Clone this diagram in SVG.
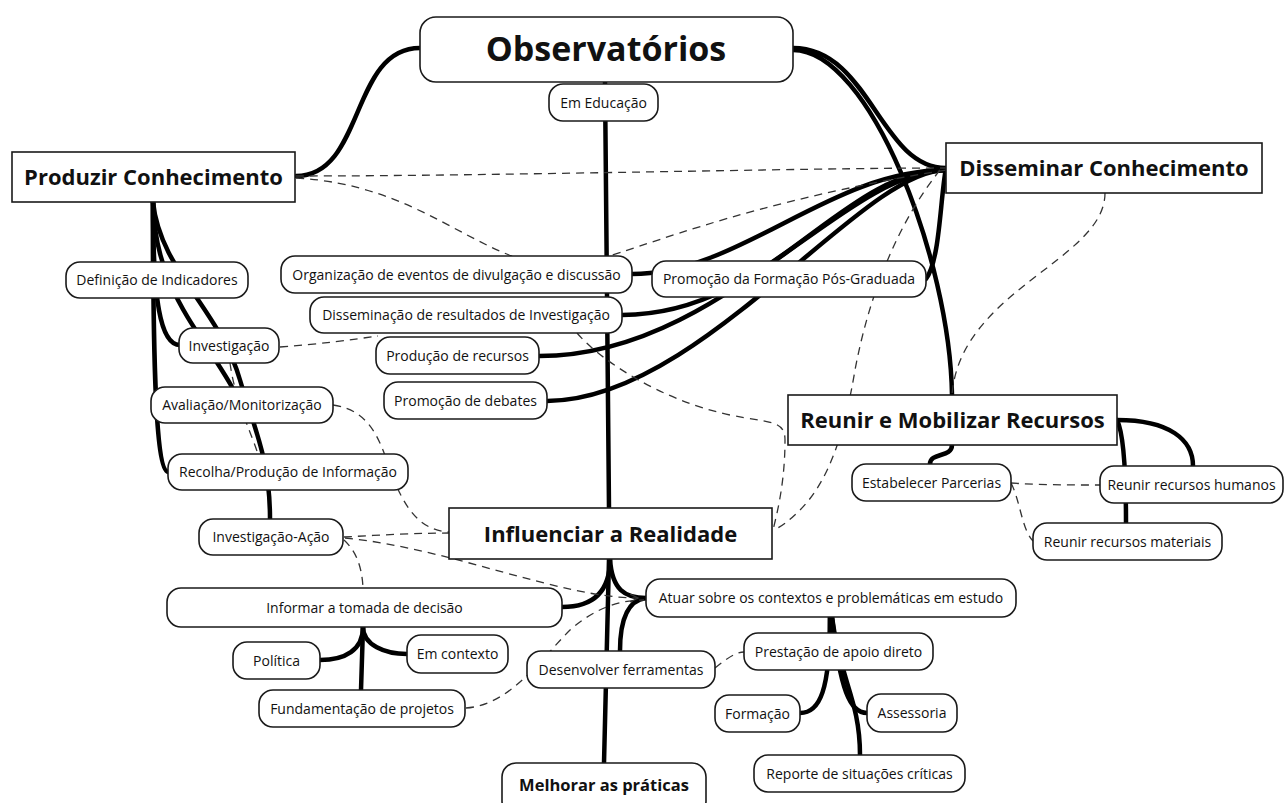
<svg xmlns="http://www.w3.org/2000/svg" width="1284" height="803" viewBox="0 0 1284 803">
<defs>
<style>
.n rect{fill:#fff;stroke:#1a1a1a;stroke-width:1.6}
.t{font-family:"Open Sans","Noto Sans","DejaVu Sans",sans-serif;font-size:14px;font-weight:500;fill:#111;text-anchor:middle}
.b{font-weight:bold;font-size:22px;fill:#111}
.k{fill:none;stroke:#000;stroke-width:4.5;stroke-linecap:round}
.d{fill:none;stroke:#333;stroke-width:1.3;stroke-dasharray:8 6}
</style>
<marker id="ar" markerWidth="10" markerHeight="10" refX="8" refY="4" orient="auto" markerUnits="userSpaceOnUse">
<path d="M0,0 L8,4 L0,8" fill="none" stroke="#333" stroke-width="1.3"/>
</marker>
</defs>
<rect width="1284" height="803" fill="#fff"/>
<g id="connectors">
<path class="k" d="M420,48 C350,48 365,176 296,176"/>
<path class="k" d="M793,48 C870,48 880,168 946,168"/>
<path class="k" d="M793,50 C870,50 950,260 952,395"/>
<path class="k" d="M605,82 L609,508"/>
<path class="k" d="M946,170 C830,170 740,274 632,274"/>
<path class="k" d="M946,170 C840,170 770,315 622,315"/>
<path class="k" d="M946,170 C840,172 720,356 539,356"/>
<path class="k" d="M946,170 C860,170 700,401 547,401"/>
<path class="k" d="M926,279 C940,260 940,200 946,168"/>
<path class="k" d="M153,202 L153,262"/>
<path class="k" d="M153,202 C153,300 160,345 180,345"/>
<path class="k" d="M153,202 C155,290 200,330 232,387"/>
<path class="k" d="M153,202 C153,350 155,470 168,472"/>
<path class="k" d="M153,202 C160,270 220,310 240,380 C255,430 270,460 270,519"/>
<path class="k" d="M952,445 C952,458 930,452 930,464"/>
<path class="k" d="M1117,420 C1170,420 1193,440 1193,466"/>
<path class="k" d="M1117,420 C1122,430 1126,460 1126,523"/>
<path class="k" d="M610,559 C610,595 590,607 562,607"/>
<path class="k" d="M610,559 C612,590 625,598 646,598"/>
<path class="k" d="M609,559 L604,763"/>
<path class="k" d="M620,651 C620,615 630,600 646,598"/>
<path class="k" d="M363,627 C363,650 345,660 320,660"/>
<path class="k" d="M363,627 C363,645 385,654 407,654"/>
<path class="k" d="M363,627 L361,690"/>
<path class="k" d="M830,617 L830,633"/>
<path class="k" d="M830,617 C830,690 820,713 800,713"/>
<path class="k" d="M832,617 C840,690 850,713 867,713"/>
<path class="k" d="M832,617 C840,680 860,700 860,755"/>
<path class="d" d="M296,176 C500,176 800,168 946,168"/>
<path class="d" d="M296,178 C420,185 470,255 555,268 C610,266 700,210 946,170"/>
<path class="d" d="M940,170 C900,220 870,290 855,370 C845,430 830,480 800,510 C790,520 780,528 773,530"/>
<path class="d" d="M1105,193 C1105,260 960,290 952,395"/>
<path class="d" d="M230,363 C235,400 250,430 258,454"/>
<path class="d" d="M280,347 C320,344 350,340 378,336"/>
<path class="d" d="M577,333 C600,360 660,400 730,415 C770,423 785,420 785,440 C785,480 778,510 773,530"/>
<path class="d" d="M333,405 C370,410 380,440 390,470 C405,510 420,530 449,532"/>
<path class="d" d="M344,537 C380,535 420,533 449,533"/>
<path class="d" d="M345,538 C450,548 560,598 638,598" marker-end="url(#ar)"/>
<path class="d" d="M344,540 C355,550 362,565 363,588"/>
<path class="d" d="M466,708 C510,705 540,660 570,630 C595,608 620,600 644,600"/>
<path class="d" d="M715,668 C725,660 735,652 744,652"/>
<path class="d" d="M1011,483 C1040,485 1070,485 1100,485"/>
<path class="d" d="M1011,483 C1020,500 1022,530 1033,541"/>
</g>
<g id="observatorios" class="n"><rect x="420" y="17" width="373" height="65" rx="16"/><text class="t b" x="606" y="61" style="font-size:34px">Observatórios</text></g>
<g id="em-educacao" class="n"><rect x="549" y="84" width="109" height="37" rx="14"/><text class="t" x="603.5" y="107.5">Em Educação</text></g>
<g id="produzir" class="n"><rect x="12" y="152" width="283" height="50"/><text class="t b" x="153.5" y="185">Produzir Conhecimento</text></g>
<g id="disseminar" class="n"><rect x="946" y="143" width="316" height="50"/><text class="t b" x="1104" y="176">Disseminar Conhecimento</text></g>
<g id="reunir" class="n"><rect x="788" y="395" width="329" height="50"/><text class="t b" x="952.5" y="428">Reunir e Mobilizar Recursos</text></g>
<g id="influenciar" class="n"><rect x="449" y="508" width="323" height="51"/><text class="t b" x="610.5" y="541.5">Influenciar a Realidade</text></g>
<g id="melhorar" class="n"><rect x="502" y="763" width="204" height="52" rx="14"/><text class="t b" x="604" y="791" style="font-size:16.5px">Melhorar as práticas</text></g>
<g id="definicao" class="n"><rect x="66" y="262" width="182" height="36" rx="14"/><text class="t" x="157" y="285">Definição de Indicadores</text></g>
<g id="investigacao" class="n"><rect x="179" y="328" width="100" height="35" rx="14"/><text class="t" x="229" y="350.5">Investigação</text></g>
<g id="avaliacao" class="n"><rect x="151" y="387" width="182" height="36" rx="14"/><text class="t" x="242" y="410">Avaliação/Monitorização</text></g>
<g id="recolha" class="n"><rect x="168" y="454" width="240" height="36" rx="14"/><text class="t" x="288" y="477">Recolha/Produção de Informação</text></g>
<g id="investigacao-acao" class="n"><rect x="199" y="519" width="144" height="36" rx="14"/><text class="t" x="271" y="542">Investigação-Ação</text></g>
<g id="informar" class="n"><rect x="167" y="588" width="395" height="39" rx="14"/><text class="t" x="364.5" y="612.5">Informar a tomada de decisão</text></g>
<g id="politica" class="n"><rect x="233" y="642" width="87" height="37" rx="14"/><text class="t" x="276.5" y="665.5">Política</text></g>
<g id="em-contexto" class="n"><rect x="407" y="635" width="101" height="38" rx="14"/><text class="t" x="457.5" y="659">Em contexto</text></g>
<g id="fundamentacao" class="n"><rect x="259" y="690" width="206" height="37" rx="14"/><text class="t" x="362" y="713.5">Fundamentação de projetos</text></g>
<g id="organizacao" class="n"><rect x="281" y="256" width="351" height="37" rx="14"/><text class="t" x="456.5" y="279.5">Organização de eventos de divulgação e discussão</text></g>
<g id="disseminacao" class="n"><rect x="310" y="297" width="312" height="36" rx="14"/><text class="t" x="466" y="320">Disseminação de resultados de Investigação</text></g>
<g id="producao" class="n"><rect x="376" y="337" width="163" height="37" rx="14"/><text class="t" x="457.5" y="360.5">Produção de recursos</text></g>
<g id="debates" class="n"><rect x="384" y="382" width="163" height="37" rx="14"/><text class="t" x="465.5" y="405.5">Promoção de debates</text></g>
<g id="formacao-pos" class="n"><rect x="652" y="261" width="274" height="36" rx="14"/><text class="t" x="789" y="284">Promoção da Formação Pós-Graduada</text></g>
<g id="parcerias" class="n"><rect x="852" y="464" width="159" height="37" rx="14"/><text class="t" x="931.5" y="487.5">Estabelecer Parcerias</text></g>
<g id="humanos" class="n"><rect x="1100" y="466" width="183" height="37" rx="14"/><text class="t" x="1191.5" y="489.5">Reunir recursos humanos</text></g>
<g id="materiais" class="n"><rect x="1033" y="523" width="189" height="37" rx="14"/><text class="t" x="1127.5" y="546.5">Reunir recursos materiais</text></g>
<g id="atuar" class="n"><rect x="646" y="579" width="370" height="38" rx="14"/><text class="t" x="831" y="603">Atuar sobre os contextos e problemáticas em estudo</text></g>
<g id="desenvolver" class="n"><rect x="527" y="651" width="188" height="37" rx="14"/><text class="t" x="621" y="674.5">Desenvolver ferramentas</text></g>
<g id="prestacao" class="n"><rect x="744" y="633" width="189" height="37" rx="14"/><text class="t" x="838.5" y="656.5">Prestação de apoio direto</text></g>
<g id="formacao" class="n"><rect x="715" y="695" width="85" height="37" rx="14"/><text class="t" x="757.5" y="718.5">Formação</text></g>
<g id="assessoria" class="n"><rect x="867" y="694" width="90" height="38" rx="14"/><text class="t" x="912" y="718">Assessoria</text></g>
<g id="reporte" class="n"><rect x="754" y="755" width="211" height="37" rx="14"/><text class="t" x="859.5" y="778.5">Reporte de situações críticas</text></g>
</svg>
